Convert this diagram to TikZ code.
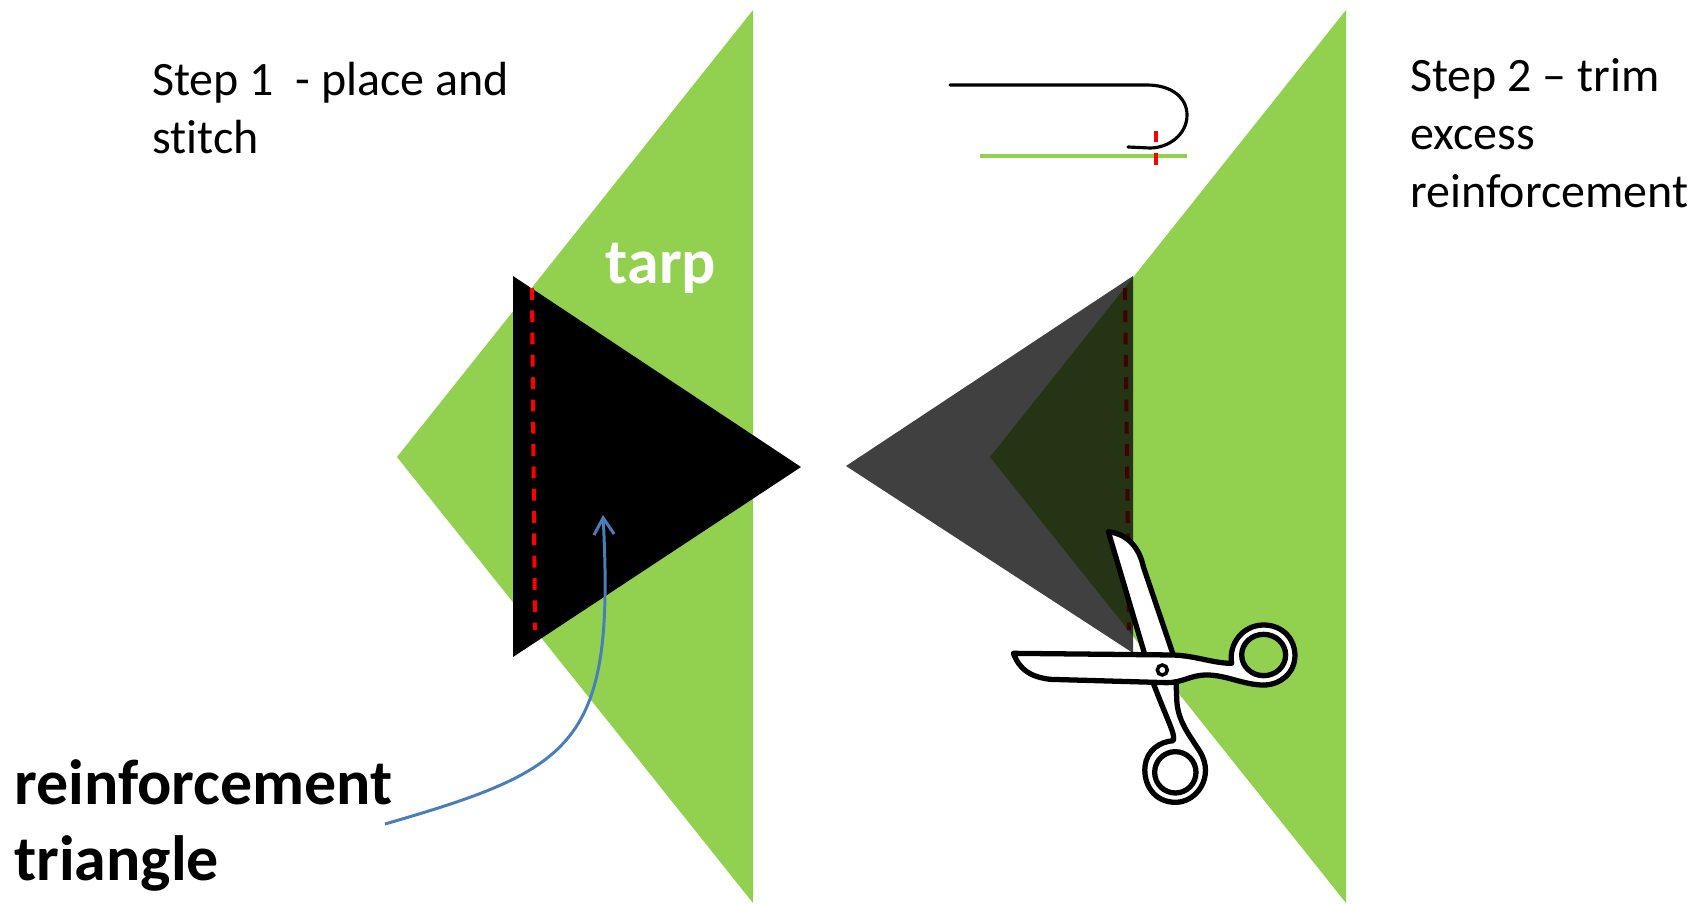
\documentclass[tikz,border=0pt]{standalone}
\usepackage{fontspec}
\setmainfont{Carlito}[Ligatures=CommonOff]
\usetikzlibrary{arrows.meta}
\definecolor{tarpgreen}{HTML}{92D050}
\definecolor{stitchred}{HTML}{FF0000}
\definecolor{arrowblue}{HTML}{4A7EBB}
\tikzset{
  steplabel/.style={font=\fontsize{27.3}{33}\selectfont, anchor=north west, align=left, inner sep=0pt},
  biglabel/.style={font=\fontsize{36.4}{43.6}\selectfont\bfseries, anchor=north west, align=left, inner sep=0pt},
  stitchline/.style={stitchred, line width=2.3pt, dash pattern=on 6.7pt off 6pt},
  scissorline/.style={draw=black, fill=white, line width=3pt, line join=round, even odd rule}
}
\begin{document}
\begin{tikzpicture}[x=0.02cm, y=-0.02cm]
  \useasboundingbox (0,0) rectangle (1704,903);
  \def\dx{593}  % second tarp shift
  \foreach \i in {0,1}
  {
    \pgfmathsetmacro{\xx}{\i*\dx}
    \begin{scope}[shift={(\xx,0)}]
      \fill[tarpgreen] (753,10) -- (397,457) -- (753,903) -- cycle;
    \end{scope}
  }
  % step 1
  \fill[black] (513,276) -- (513,657) -- (801,467) -- cycle;
  \draw[stitchline] (532,288) -- (535,630);
  \node[steplabel] (steplabela) at (152,62) {Step 1\ \ - place and\\stitch};
  \node[font=\fontsize{36.4}{44}\selectfont\bfseries, white, inner sep=0pt] (tarplabel) at (661,268) {tarp};
  \node[biglabel] (reinflabel) at (14,759) {reinforcement\\triangle};
  \coordinate (arrowstart) at (385,824);
  \coordinate (arrowend) at (603,515);
  \draw[arrowblue, line width=1.7pt, -{Straight Barb[length=9.5pt, width=11.5pt]}]
    (arrowstart) .. controls (575,769) and (615,745) .. (arrowend);
  % step 2
  \draw[stitchline] (1125,288) -- (1129,630);
  \fill[black, opacity=0.75] (1133,276) -- (1133,653) -- (846,466) -- cycle;
  \node[steplabel] (steplabelb) at (1410,58) {Step 2 – trim\\excess\\reinforcement};
  % fold sketch
  \coordinate (foldstart) at (950,85);
  \coordinate (foldend) at (1128,147);
  \draw[black, line width=1.8pt, line cap=round] (foldstart) -- (1147,85)
    .. controls (1172,85) and (1187,98) .. (1187,115)
    .. controls (1187,135) and (1168,148) .. (1150,148) -- (foldend);
  \coordinate (hemleft) at (980,156);
  \coordinate (hemright) at (1187,156);
  \draw[tarpgreen, line width=2.2pt] (hemleft) -- (hemright);
  \draw[stitchred, line width=1.9pt] (1156,131) -- (1156,142);
  \draw[stitchred, line width=1.9pt] (1156,153) -- (1156,165);
  % scissors, in zoomed coordinates
  \begin{scope}[shift={(980,500)}, x=0.00667cm, y=-0.00667cm]
    \draw[scissorline]
      (385,95) .. controls (430,100) and (475,130) .. (490,200) -- (585,480)
      -- (590,590) .. controls (590,660) and (625,700) .. (660,755)
      .. controls (705,830) and (650,907) .. (587,907)
      .. controls (520,907) and (490,850) .. (495,800)
      .. controls (500,750) and (540,725) .. (580,722)
      .. controls (585,700) and (570,680) .. (520,550) -- cycle
      (586,817) circle[radius=62];
    \draw[scissorline]
      (100,460) -- (580,465) .. controls (650,468) and (700,490) .. (755,490)
      .. controls (745,430) and (790,375) .. (851,375)
      .. controls (910,375) and (945,420) .. (945,465)
      .. controls (945,520) and (900,555) .. (851,555)
      .. controls (790,555) and (740,525) .. (680,525)
      .. controls (630,525) and (610,548) .. (560,548)
      -- (210,538) .. controls (150,530) and (120,510) .. (100,460) -- cycle
      (851,465) ellipse[x radius=66, y radius=62];
    \draw[draw=black, fill=white, line width=2pt] (547,510) circle[radius=15];
  \end{scope}
\end{tikzpicture}
\end{document}
